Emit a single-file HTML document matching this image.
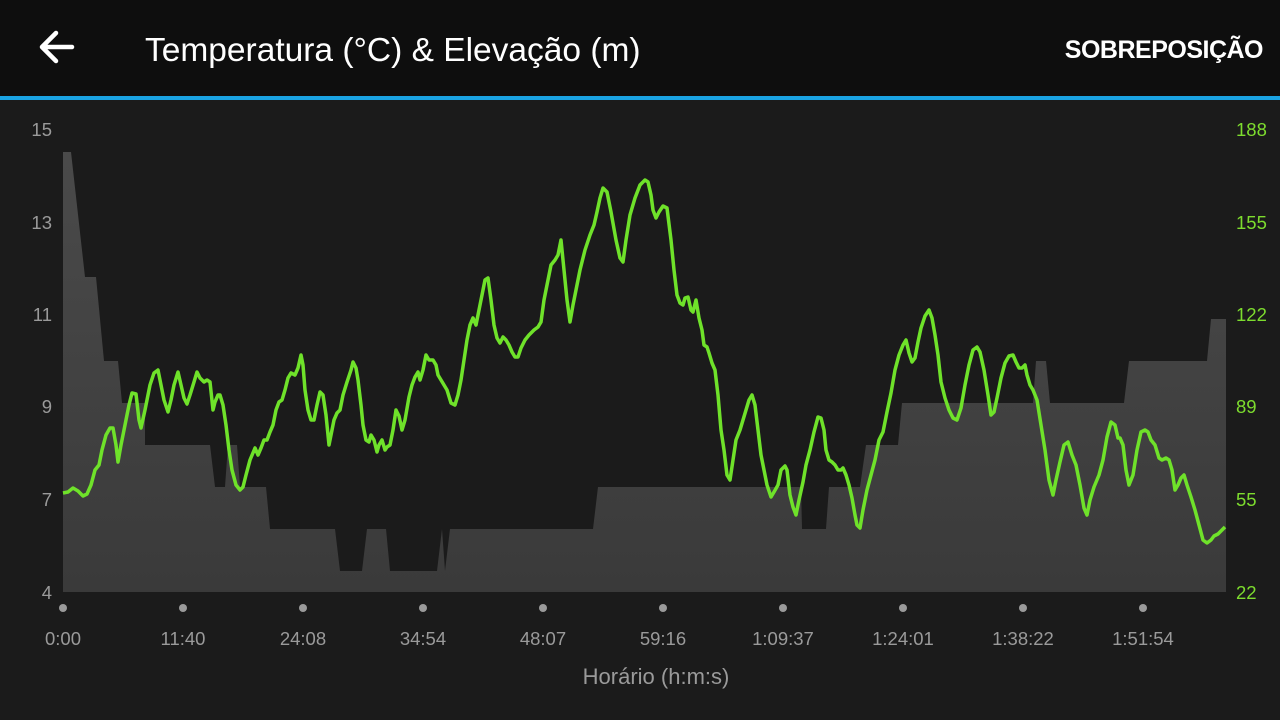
<!DOCTYPE html>
<html><head><meta charset="utf-8"><style>
body{margin:0;width:1280px;height:720px;background:#1b1b1b;overflow:hidden;font-family:"Liberation Sans",sans-serif}
.hdr{position:absolute;left:0;top:0;width:1280px;height:96px;background:#0e0e0e}
.blue{position:absolute;left:0;top:96px;width:1280px;height:4px;background:#1aa3e3}
</style></head><body>
<div class="hdr"></div><div class="blue"></div>
<svg width="1280" height="720" style="position:absolute;left:0;top:0" font-family="Liberation Sans, sans-serif">
<defs><linearGradient id="g" x1="0" y1="0" x2="0" y2="1"><stop offset="0" stop-color="#4a4a4a"/><stop offset="1" stop-color="#3a3a3a"/></linearGradient></defs>
<path d="M42 47 L72 47 M42 47 L56 33 M42 47 L56 61" stroke="#fff" stroke-width="4.5" fill="none" stroke-linecap="round"/>
<text x="145" y="61" fill="#fff" font-size="33.5">Temperatura (°C) &amp; Elevação (m)</text>
<text x="1263" y="58" fill="#fff" font-size="25" font-weight="600" text-anchor="end" letter-spacing="-0.5">SOBREPOSIÇÃO</text>
<polygon fill="url(#g)" points="63,592 63,152 71,152 85,277 96,277 104,361 118,361 122,403 145,403 145,445 210,445 215,487 225,487 228,445 237,445 240,487 266,487 270,529 335,529 340,571 362,571 367,529 386,529 390,571 437,571 442,529 445,571 450,529 593,529 598,487 801,487 802,529 826,529 829,487 860,487 866,445 898,445 902,403 1033,403 1036,361 1046,361 1050,403 1124,403 1129,361 1207,361 1211,319 1226,319 1226,592"/>
<polyline fill="none" stroke="#6fe22a" stroke-width="3.5" stroke-linejoin="round" points="63,493 68,492 73,488 78,491 83,496 87,494 91,485 95,470 99,465 102,450 106,435 110,428 113,428 116,445 118,462 121,445 125,425 129,405 132,393 136,394 139,420 141,428 145,410 150,385 154,373 158,370 161,385 164,400 168,412 171,400 174,385 178,372 181,385 184,398 187,404 190,395 194,382 197,372 200,378 204,382 207,380 210,382 213,410 215,402 218,395 220,395 223,405 226,425 229,450 232,470 236,485 240,490 243,487 246,475 250,460 255,448 258,455 261,448 264,440 267,440 270,432 273,425 276,410 279,402 282,400 285,390 288,378 291,373 295,375 298,368 301,355 303,365 305,390 308,410 311,420 314,420 317,405 320,392 323,395 326,415 329,445 331,435 334,420 337,413 340,410 343,395 347,382 351,370 353,362 356,368 358,380 361,405 363,425 366,440 369,442 371,435 374,440 377,452 379,445 382,440 385,450 387,447 390,445 393,430 396,410 399,416 402,430 405,420 409,397 412,385 415,377 418,372 420,380 423,370 426,355 429,360 433,360 436,365 438,375 441,380 444,385 447,390 451,403 455,405 458,395 461,380 464,360 467,340 470,325 473,318 476,325 479,310 482,295 485,280 488,278 491,300 494,325 497,338 500,343 503,337 506,340 509,345 512,352 515,357 518,357 521,348 525,340 529,335 534,330 538,327 541,322 544,300 548,280 551,265 555,260 558,255 561,240 564,270 567,300 570,322 573,305 576,290 580,270 585,250 590,235 594,225 597,212 600,198 603,188 607,192 611,212 616,240 620,258 623,262 626,240 630,215 635,198 640,185 645,180 648,182 651,195 653,210 656,218 659,212 663,206 667,208 671,240 674,270 677,295 680,303 683,305 685,298 688,297 691,310 693,312 696,300 699,318 702,330 704,345 707,347 709,353 712,363 715,370 718,395 721,430 724,450 727,475 730,480 733,460 736,440 740,430 743,420 746,410 749,400 752,395 755,405 758,430 761,455 764,470 767,485 771,497 774,492 778,485 781,470 785,466 787,470 790,495 793,507 796,515 799,500 803,482 806,465 810,450 814,432 818,417 821,418 824,430 826,450 829,460 832,462 835,465 838,470 841,470 843,468 846,475 849,485 852,498 855,515 857,525 860,528 863,510 867,490 871,475 875,460 879,440 883,432 887,412 891,393 895,370 899,355 903,345 906,340 909,353 912,362 915,358 918,342 921,328 925,316 929,310 932,318 935,335 938,355 941,382 945,398 949,410 953,418 957,420 961,408 965,385 969,365 973,350 977,347 980,352 984,370 988,395 991,415 994,412 997,398 1001,378 1005,363 1009,356 1013,355 1016,362 1019,368 1022,368 1025,365 1027,375 1030,385 1033,390 1037,400 1041,425 1045,450 1049,480 1053,495 1056,480 1060,462 1064,445 1068,442 1072,455 1076,465 1080,485 1084,508 1087,515 1090,500 1094,487 1099,475 1103,460 1107,437 1111,422 1115,425 1118,438 1120,438 1123,445 1126,470 1129,485 1133,475 1137,450 1141,432 1145,430 1148,432 1151,440 1155,445 1159,458 1162,460 1166,458 1169,460 1172,470 1175,490 1178,485 1181,478 1184,475 1187,485 1191,497 1195,510 1199,525 1203,540 1207,543 1211,540 1214,536 1218,534 1222,530 1225,527"/>
<g fill="#9a9a9a" font-size="18.5" text-anchor="end">
<text x="52" y="136">15</text><text x="52" y="229">13</text><text x="52" y="321">11</text><text x="52" y="413">9</text><text x="52" y="506">7</text><text x="52" y="599">4</text>
</g>
<g fill="#7ddc2e" font-size="18.5">
<text x="1236" y="136">188</text><text x="1236" y="229">155</text><text x="1236" y="321">122</text><text x="1236" y="413">89</text><text x="1236" y="506">55</text><text x="1236" y="599">22</text>
</g>
<g fill="#9a9a9a">
<circle cx="63" cy="608" r="4"/><circle cx="183" cy="608" r="4"/><circle cx="303" cy="608" r="4"/><circle cx="423" cy="608" r="4"/><circle cx="543" cy="608" r="4"/><circle cx="663" cy="608" r="4"/><circle cx="783" cy="608" r="4"/><circle cx="903" cy="608" r="4"/><circle cx="1023" cy="608" r="4"/><circle cx="1143" cy="608" r="4"/>
</g>
<g fill="#9a9a9a" font-size="18.5" text-anchor="middle">
<text x="63" y="645">0:00</text><text x="183" y="645">11:40</text><text x="303" y="645">24:08</text><text x="423" y="645">34:54</text><text x="543" y="645">48:07</text><text x="663" y="645">59:16</text><text x="783" y="645">1:09:37</text><text x="903" y="645">1:24:01</text><text x="1023" y="645">1:38:22</text><text x="1143" y="645">1:51:54</text>
<text x="656" y="684" font-size="22">Horário (h:m:s)</text>
</g>
</svg>
</body></html>
